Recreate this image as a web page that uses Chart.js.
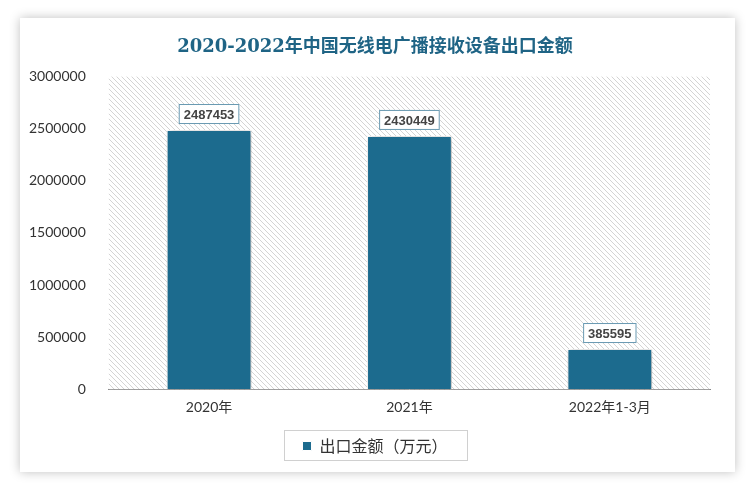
<!DOCTYPE html>
<html lang="zh">
  <head>
    <meta charset="UTF-8" />
    <script src="https://cdn.jsdelivr.net/npm/chart.js@4.4.1/dist/chart.umd.min.js"></script>
    <title>2020-2022年中国无线电广播接收设备出口金额</title>
    <style>
      body { margin: 0; background: #fff; }
      .card {
        position: absolute; left: 20px; top: 18px; width: 715px; height: 454px;
        background: #fff; box-shadow: 0 0 10px rgba(0,0,0,0.25);
      }
      .wrap { position: absolute; left: 0; top: 0; width: 750px; height: 491px; }
    </style>
  </head>
  <body>
    <div class="card"></div>
    <div class="wrap"><canvas id="myChart" width="750" height="491"></canvas></div>
    <script>
      const labels = ["2020年", "2021年", "2022年1-3月"];
      const values = [2487453, 2430449, 385595];
      const seriesName = "出口金额（万元）";
      const cjk = "Lato, 'Noto Sans CJK SC', sans-serif";

      function hatch() {
        const c = document.createElement("canvas");
        c.width = 5; c.height = 5;
        const g = c.getContext("2d");
        g.fillStyle = "#fff";
        g.fillRect(0, 0, 5, 5);
        g.strokeStyle = "#d4d4d4";
        g.lineWidth = 1;
        g.beginPath();
        g.moveTo(-1, -1); g.lineTo(6, 6);
        g.moveTo(-1, 4); g.lineTo(1, 6);
        g.moveTo(4, -1); g.lineTo(6, 1);
        g.stroke();
        return g.createPattern(c, "repeat");
      }

      // title and legend are centred on the card, not on the padded box
      const SHIFT = 13;

      const extras = {
        id: "extras",
        afterLayout(chart) {
          [chart.titleBlock, chart.legend].forEach((b) => {
            if (!b) return;
            b.left += SHIFT;
            b.right += SHIFT;
            (b.legendHitBoxes || []).forEach((h) => { h.left += SHIFT; });
          });
        },
        beforeDatasetsDraw(chart) {
          const { ctx, chartArea: a } = chart;
          ctx.save();
          ctx.fillStyle = hatch();
          ctx.fillRect(a.left, a.top, a.right - a.left, a.bottom - a.top);
          ctx.restore();
          ctx.save();
          ctx.shadowColor = "rgba(0,0,0,0.35)";
          ctx.shadowBlur = 6;
          ctx.shadowOffsetX = 2;
          ctx.shadowOffsetY = 1;
        },
        afterDatasetsDraw(chart) {
          const { ctx } = chart;
          ctx.restore();
          const meta = chart.getDatasetMeta(0);
          ctx.save();
          ctx.font = "bold 13px 'Liberation Sans', sans-serif";
          ctx.textAlign = "center";
          ctx.textBaseline = "middle";
          meta.data.forEach((bar, i) => {
            const txt = String(values[i]);
            const w = ctx.measureText(txt).width + 10;
            const h = 20;
            const x = bar.x - w / 2;
            const y = bar.y - 6 - h;
            ctx.fillStyle = "#fff";
            ctx.fillRect(x, y, w, h);
            ctx.strokeStyle = "#6a9ab2";
            ctx.lineWidth = 1;
            ctx.strokeRect(x + 0.5, y + 0.5, w - 1, h - 1);
            ctx.fillStyle = "#444";
            ctx.fillText(txt, bar.x, y + h / 2 + 1);
          });
          ctx.restore();
        },
        afterDraw(chart) {
          const { ctx } = chart;
          const lg = chart.legend;
          ctx.save();
          ctx.strokeStyle = "#d0d0d0";
          ctx.lineWidth = 1;
          const cx = (lg.left + lg.right) / 2;
          const cy = (lg.top + lg.bottom) / 2;
          ctx.strokeRect(Math.round(cx - 91.5) + 0.5, Math.round(cy - 15) + 0.5, 183, 30);
          ctx.restore();
        },
      };

      new Chart(document.getElementById("myChart"), {
        type: "bar",
        data: {
          labels: labels,
          datasets: [
            {
              label: seriesName,
              data: values,
              backgroundColor: "#1c6b8e",
              borderColor: "#ffffff",
              borderWidth: 1,
              barPercentage: 1,
              categoryPercentage: 0.423,
            },
          ],
        },
        options: {
          responsive: false,
          animation: false,
          layout: { padding: { left: 14, right: 40, top: 0, bottom: 27 } },
          plugins: {
            title: {
              display: true,
              text: "2020-2022年中国无线电广播接收设备出口金额",
              color: "#1f6485",
              font: { family: "'DejaVu Serif', 'Noto Sans CJK SC', serif", size: 18, weight: "bold" },
              padding: { top: 37, bottom: 18 },
            },
            legend: {
              position: "bottom",
              labels: {
                boxWidth: 9,
                boxHeight: 9,
                color: "#333",
                font: { family: "'Noto Sans CJK SC', sans-serif", size: 16 },
                padding: 12,
              },
            },
            tooltip: { enabled: false },
          },
          scales: {
            x: {
              grid: { display: false, drawTicks: false },
              border: { color: "#888", width: 1 },
              ticks: { color: "#333", font: { family: cjk, size: 14 }, padding: 10 },
            },
            y: {
              min: 0,
              max: 3000000,
              grid: { display: false },
              border: { display: false },
              ticks: {
                stepSize: 500000,
                color: "#333",
                font: { family: cjk, size: 14 },
                padding: 15,
                callback: (v) => String(v),
              },
            },
          },
        },
        plugins: [extras],
      });
    </script>
  </body>
</html>
